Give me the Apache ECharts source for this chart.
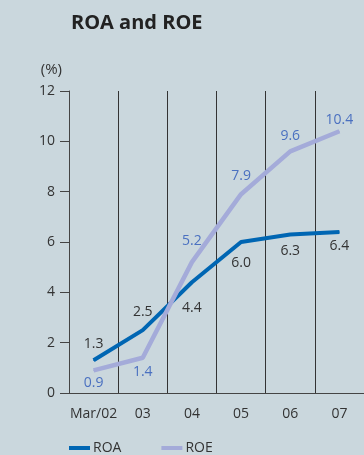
<!DOCTYPE html>
<html>
<head>
<meta charset="utf-8">
<script src="https://cdn.jsdelivr.net/npm/echarts@6/dist/echarts.min.js"></script>
<style>
  html, body { margin: 0; padding: 0; background: #cad7dd; }
  #chart { width: 364px; height: 455px; }
</style>
</head>
<body>
<div id="chart"></div>
<script>
const categories = ['Mar/02', '03', '04', '05', '06', '07'];
const roaValues = [1.3, 2.5, 4.4, 6.0, 6.3, 6.4];
const roeValues = [0.9, 1.4, 5.2, 7.9, 9.6, 10.4];
const yTicks = [0, 2, 4, 6, 8, 10, 12];

// where each value label sits relative to its point, and how far away
const roaLabelPos = ['top', 'top', 'bottom', 'bottom', 'bottom', 'bottom'];
const roaLabelGap = [9, 11, 18, 14, 9, 7];
const roeLabelPos = ['bottom', 'bottom', 'top', 'top', 'top', 'top'];
const roeLabelGap = [5, 7, 14, 11, 8, 4];

const FONT = '"Open Sans", sans-serif';
const ROA_COLOR = '#0066b3';
const ROE_COLOR = '#a4abd9';

function withLabels(values, positions, gaps) {
  return values.map((v, i) => ({
    value: v,
    label: { position: positions[i], distance: gaps[i] }
  }));
}

const chart = echarts.init(document.getElementById('chart'), null, { renderer: 'canvas' });

chart.setOption({
  backgroundColor: '#cad7dd',
  animation: false,
  textStyle: { fontFamily: FONT },
  title: {
    text: 'ROA and ROE',
    left: 66,
    top: 8,
    textStyle: { fontFamily: FONT, fontSize: 20, fontWeight: 'bold', color: '#222' }
  },
  legend: {
    left: 64,
    top: 436,
    icon: 'rect',
    itemWidth: 21,
    itemHeight: 4,
    itemGap: 40,
    textStyle: { fontFamily: FONT, fontSize: 14, color: '#333', padding: [0, 0, 0, -2] },
    data: ['ROA', 'ROE']
  },
  grid: { left: 69, right: -8, top: 91, bottom: 62 },
  xAxis: {
    type: 'category',
    data: categories,
    boundaryGap: true,
    axisLine: { lineStyle: { color: '#444', width: 1 } },
    axisTick: { show: false },
    axisLabel: { interval: 0, color: '#333', fontSize: 14, margin: 14, fontFamily: FONT },
    splitLine: { show: true, interval: 0, lineStyle: { color: '#333', width: 1 } }
  },
  yAxis: {
    type: 'value',
    min: yTicks[0],
    max: yTicks[yTicks.length - 1],
    interval: 2,
    name: '(%)',
    nameLocation: 'end',
    nameGap: 14,
    nameTextStyle: { color: '#333', fontSize: 15, align: 'right', padding: [0, 7, 0, 0], fontFamily: FONT },
    axisLine: { show: true, lineStyle: { color: '#444', width: 1 } },
    axisTick: { show: true, length: 9, lineStyle: { color: '#444' } },
    axisLabel: { color: '#333', fontSize: 14, margin: 14, fontFamily: FONT },
    splitLine: { show: false }
  },
  series: [
    {
      name: 'ROA',
      type: 'line',
      data: withLabels(roaValues, roaLabelPos, roaLabelGap),
      symbol: 'circle',
      symbolSize: 1,
      lineStyle: { color: ROA_COLOR, width: 4 },
      itemStyle: { color: ROA_COLOR },
      label: {
        show: true,
        color: '#333',
        fontSize: 14,
        fontFamily: FONT,
        formatter: p => p.value.toFixed(1)
      }
    },
    {
      name: 'ROE',
      type: 'line',
      data: withLabels(roeValues, roeLabelPos, roeLabelGap),
      symbol: 'circle',
      symbolSize: 1,
      lineStyle: { color: ROE_COLOR, width: 4.5 },
      itemStyle: { color: ROE_COLOR },
      label: {
        show: true,
        color: '#4a70c0',
        fontSize: 14,
        fontFamily: FONT,
        formatter: p => p.value.toFixed(1)
      }
    }
  ]
});
</script>
</body>
</html>
